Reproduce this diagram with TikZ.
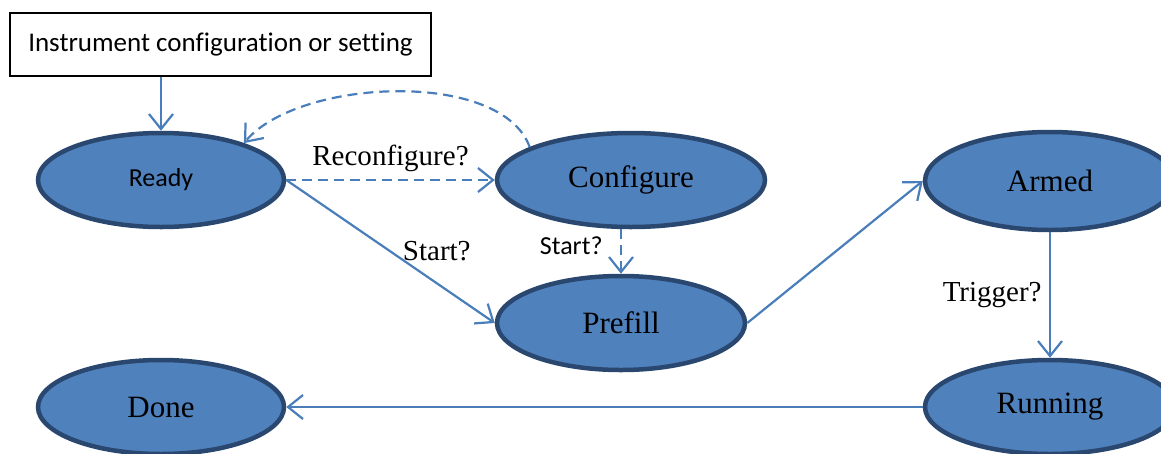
\documentclass[tikz,border=0pt]{standalone}
\usepackage{fontspec}
\setmainfont{Liberation Serif}
\newfontfamily\calibri[RawFeature={-liga;-clig;-calt;-dlig}]{Carlito}
\usetikzlibrary{shapes.geometric,arrows.meta,positioning}
\definecolor{statefill}{HTML}{4F81BD}
\definecolor{stateline}{HTML}{2A4770}
\definecolor{arrowcol}{HTML}{4A7EBB}
\begin{document}
\begin{tikzpicture}[x=1pt,y=-1pt,
    state/.style={ellipse,draw=stateline,fill=statefill,line width=4.5pt,minimum width=246pt,minimum height=94pt,font=\fontsize{31}{36}\selectfont},
    trans/.style={draw=arrowcol,line width=2.2pt,-{Straight Barb[length=15pt,width=24pt,line width=2.2pt]}},
    maybe/.style={trans,dash pattern=on 10pt off 6pt},
    lbl/.style={font=\fontsize{29}{34}\selectfont},
    clbl/.style={font=\calibri\fontsize{26}{31}\selectfont}]
  \clip (0,0) rectangle (1161,453);
  \node[draw,line width=1.4pt,minimum width=421pt,minimum height=63pt,font=\calibri\fontsize{27}{32}\selectfont](box)at(220.5,44.5){Instrument configuration or setting};
  \node[state,font=\calibri\fontsize{26}{31}\selectfont](ready)at(161,180){Ready};
  \node[state,minimum width=268pt](conf)at(631,180){Configure};
  \node[state,minimum width=248pt](prefill)at(621,323){Prefill};
  \node[state,minimum width=250pt,minimum height=98pt](armed)at(1050,181){Armed};
  \node[state,minimum width=250pt](running)at(1050,407){Running};
  \node[state](done)at(161,407){Done};
  \draw[trans](box.south -| ready.north)--(ready.north);
  \draw[maybe](ready.east)--(conf.west) node[lbl,midway,above=4pt]{Reconfigure?};
  \draw[maybe](conf.162) .. controls +(-28,-78) and +(55,-65) .. (ready.24);
  \draw[trans](ready.east)--(prefill.west) node[lbl,pos=0.5,right=8pt]{Start?};
  \draw[maybe](conf.south -| prefill.north)--(prefill.north) node[clbl,pos=0.38,left=14pt]{Start?};
  \draw[trans](prefill.east)--(armed.west);
  \draw[trans](armed.south)--(running.north) node[lbl,midway,left=4pt]{Trigger?};
  \draw[trans](running.west)--(done.east);
\end{tikzpicture}
\end{document}
